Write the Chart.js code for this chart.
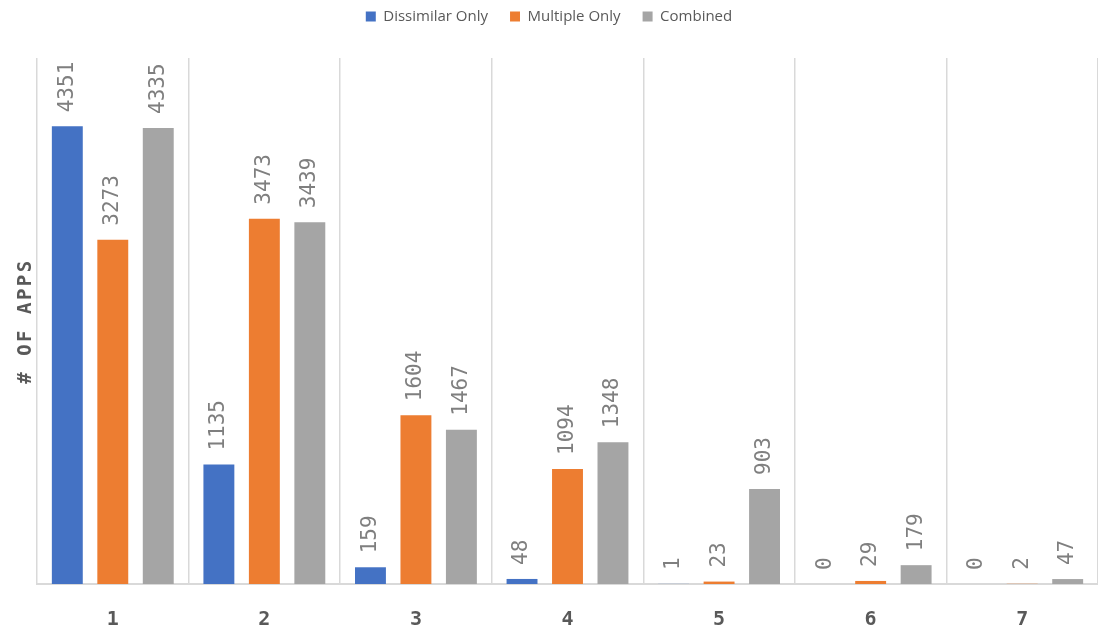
<!DOCTYPE html>
<html>
<head>
<meta charset="utf-8">
<script src="https://cdn.jsdelivr.net/npm/chart.js@4/dist/chart.umd.min.js"></script>
<style>
  html, body { margin: 0; padding: 0; background: #fff; }
  #wrap { width: 1098px; height: 632px; }
</style>
</head>
<body>
<div id="wrap"><canvas id="appsChart"></canvas></div>
<script>
const categories = ['1', '2', '3', '4', '5', '6', '7'];
const dissimilarOnly = [4351, 1135, 159, 48, 1, 0, 0];
const multipleOnly = [3273, 3473, 1604, 1094, 23, 29, 2];
const combined = [4335, 3439, 1467, 1348, 903, 179, 47];

const MONO = '"DejaVu Sans Mono", monospace';

// value labels standing on top of each bar, rotated to read upwards
const barValueLabels = {
    id: 'barValueLabels',
    afterDatasetsDraw(chart) {
        const ctx = chart.ctx;
        ctx.save();
        ctx.font = '21px ' + MONO;
        ctx.fillStyle = '#7f7f7f';
        ctx.textAlign = 'left';
        ctx.textBaseline = 'middle';
        chart.data.datasets.forEach((ds, i) => {
            chart.getDatasetMeta(i).data.forEach((bar, j) => {
                ctx.save();
                ctx.translate(bar.x, bar.y - 14);
                ctx.rotate(-Math.PI / 2);
                ctx.fillText(String(ds.data[j]), 0, 0);
                ctx.restore();
            });
        });
        ctx.restore();
    }
};

// vertical axis title
const axisTitle = {
    id: 'axisTitle',
    afterDraw(chart) {
        const ctx = chart.ctx;
        const area = chart.chartArea;
        ctx.save();
        ctx.translate(26, (area.top + area.bottom) / 2);
        ctx.rotate(-Math.PI / 2);
        ctx.font = 'bold 19px ' + MONO;
        ctx.letterSpacing = '2.5px';
        ctx.fillStyle = '#595959';
        ctx.textAlign = 'center';
        ctx.textBaseline = 'middle';
        ctx.fillText('# OF APPS', 0, 0);
        ctx.restore();
    }
};

// leave some room between the legend and the plot
const legendGap = {
    id: 'legendGap',
    beforeInit(chart) {
        const fit = chart.legend.fit;
        chart.legend.fit = function () {
            fit.call(this);
            this.height += 24;
        };
    }
};

new Chart(document.getElementById('appsChart'), {
    type: 'bar',
    data: {
        labels: categories,
        datasets: [
            { label: 'Dissimilar Only', data: dissimilarOnly, backgroundColor: '#4472C4' },
            { label: 'Multiple Only', data: multipleOnly, backgroundColor: '#ED7D31' },
            { label: 'Combined', data: combined, backgroundColor: '#A5A5A5' }
        ]
    },
    options: {
        responsive: true,
        maintainAspectRatio: false,
        animation: false,
        categoryPercentage: 0.9,
        barPercentage: 0.68,
        layout: { padding: { left: 0, right: 0, top: -13, bottom: 4 } },
        plugins: {
            legend: {
                position: 'top',
                labels: {
                    boxWidth: 10,
                    boxHeight: 10,
                    padding: 22,
                    color: '#595959',
                    font: { family: '"Open Sans", sans-serif', size: 15 }
                }
            },
            tooltip: { enabled: false }
        },
        scales: {
            x: {
                offset: true,
                grid: { offset: true, color: '#d9d9d9', lineWidth: 1.5, drawTicks: false },
                border: { display: true, color: '#d9d9d9', width: 2 },
                ticks: {
                    padding: 24,
                    color: '#595959',
                    font: { family: MONO, size: 20, weight: 'bold' }
                },
                afterFit(scale) { scale.height = 44; }
            },
            y: {
                min: 0,
                max: 5000,
                grid: { display: false },
                border: { display: false },
                ticks: { display: false },
                afterFit(scale) { scale.width = 37; }
            }
        }
    },
    plugins: [barValueLabels, axisTitle, legendGap]
});
</script>
</body>
</html>
